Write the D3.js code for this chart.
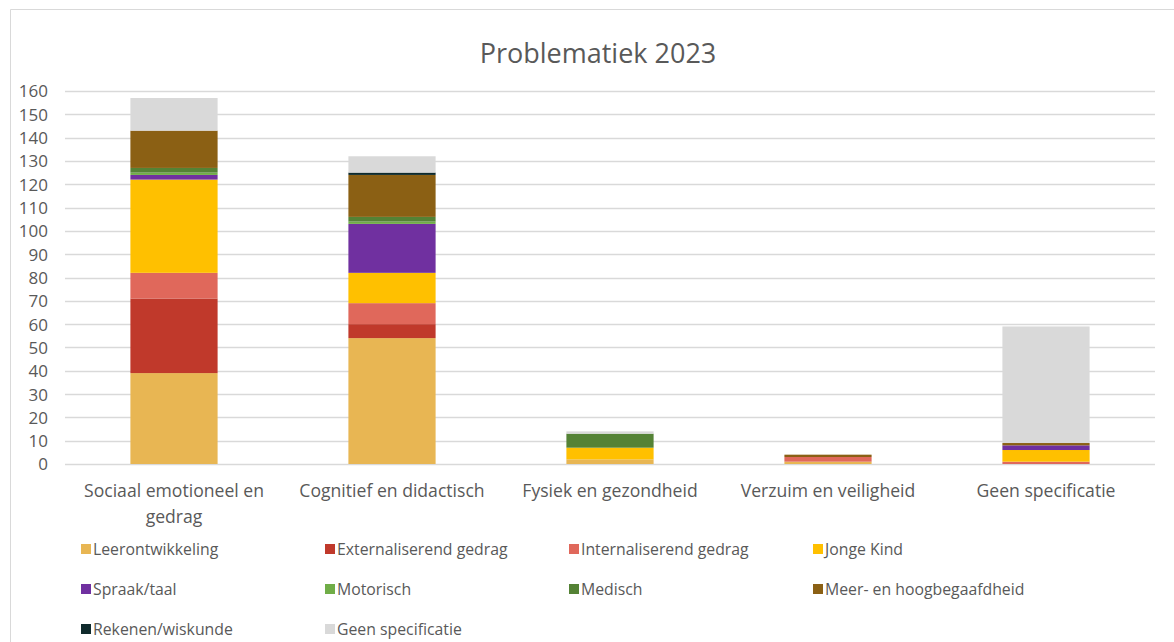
<!DOCTYPE html>
<html><head><meta charset="utf-8">
<script src="https://cdn.jsdelivr.net/npm/d3@7"></script>
<style>body{margin:0;background:#fff}svg{display:block}</style>
</head><body><svg id="c" width="1174" height="642"></svg>
<script>
const categories = ["Sociaal emotioneel en gedrag","Cognitief en didactisch","Fysiek en gezondheid","Verzuim en veiligheid","Geen specificatie"];
const seriesNames = ["Leerontwikkeling","Externaliserend gedrag","Internaliserend gedrag","Jonge Kind","Spraak/taal","Motorisch","Medisch","Meer- en hoogbegaafdheid","Rekenen/wiskunde","Geen specificatie"];
const leerontwikkeling = [39,54,2,1,0];
const externaliserend  = [32,6,0,0,0];
const internaliserend  = [11,9,0,2,1];
const jongeKind        = [40,13,5,0,5];
const spraakTaal       = [2,21,0,0,2];
const motorisch        = [1,1,0,0,0];
const medisch          = [2,2,6,0,0];
const hoogbegaafd      = [16,18,0,1,1];
const rekenen          = [0,1,0,0,0];
const geenSpec         = [14,7,1,0,50];
const yTicks = [0,10,20,30,40,50,60,70,80,90,100,110,120,130,140,150,160];
const colors = ["#E8B653","#C0392B","#E0685B","#FFC000","#7030A0","#70AD47","#548235","#8B6014","#0F2A2C","#D9D9D9"];

const seriesValues = [leerontwikkeling,externaliserend,internaliserend,jongeKind,spraakTaal,motorisch,medisch,hoogbegaafd,rekenen,geenSpec];
const rows = categories.map((c,i)=>{const o={cat:c};seriesNames.forEach((s,j)=>o[s]=seriesValues[j][i]);return o;});
const stack = d3.stack().keys(seriesNames)(rows);

const svg = d3.select("#c");
const font = "'Open Sans', sans-serif";
const txt = "#595959";

svg.append("path").attr("d","M10.5,642 L10.5,9.5 L1174,9.5").attr("fill","none").attr("stroke","#d9d9d9").attr("stroke-width",1);

const x = d3.scaleBand().domain(categories).range([65,1155]).paddingInner(0.6).paddingOuter(0.3);
const y = d3.scaleLinear().domain([0,160]).range([464,91]);

svg.append("g").selectAll("line").data(yTicks).join("line")
  .attr("x1",65).attr("x2",1155).attr("y1",d=>Math.round(y(d))+0.5).attr("y2",d=>Math.round(y(d))+0.5)
  .attr("stroke","#d9d9d9").attr("stroke-width",1.3);

const yAxis = d3.axisLeft(y).tickValues(yTicks).tickSize(0).tickPadding(0);
const ga = svg.append("g").attr("transform","translate(48,0)").call(yAxis);
ga.select(".domain").remove();
ga.selectAll("text").attr("font-family",font).attr("font-size",17).attr("fill",txt).attr("dy","0.35em");

svg.append("g").selectAll("g").data(stack).join("g").attr("fill",(d,i)=>colors[i])
  .selectAll("rect").data(d=>d).join("rect")
  .attr("x",d=>x(d.data.cat)).attr("width",x.bandwidth())
  .attr("y",d=>y(d[1])).attr("height",d=>Math.max(0,y(d[0])-y(d[1])));

const xl = svg.append("g");
const wrap = {"Sociaal emotioneel en gedrag":["Sociaal emotioneel en","gedrag"]};
categories.forEach(c=>{
  const lines = wrap[c]||[c];
  const t = xl.append("text").attr("x",x(c)+x.bandwidth()/2).attr("y",497).attr("text-anchor","middle")
    .attr("font-family",font).attr("font-size",17.6).attr("fill",txt);
  lines.forEach((l,i)=>t.append("tspan").attr("x",x(c)+x.bandwidth()/2).attr("dy",i?26:0).text(l));
});

svg.append("text").attr("x",598).attr("y",63).attr("text-anchor","middle").attr("font-family",font)
  .attr("font-size",27).attr("fill",txt).text("Problematiek 2023");

const lg = svg.append("g");
seriesNames.forEach((s,i)=>{
  const col=i%4,row=Math.floor(i/4);
  const gx=81+col*244, gy=549+row*40;
  lg.append("rect").attr("x",gx).attr("y",gy-5).attr("width",10).attr("height",10).attr("fill",colors[i]);
  lg.append("text").attr("x",gx+12).attr("y",gy).attr("dy","0.35em").attr("font-family",font)
    .attr("font-size",15.8).attr("fill",txt).text(s);
});
</script></body></html>
